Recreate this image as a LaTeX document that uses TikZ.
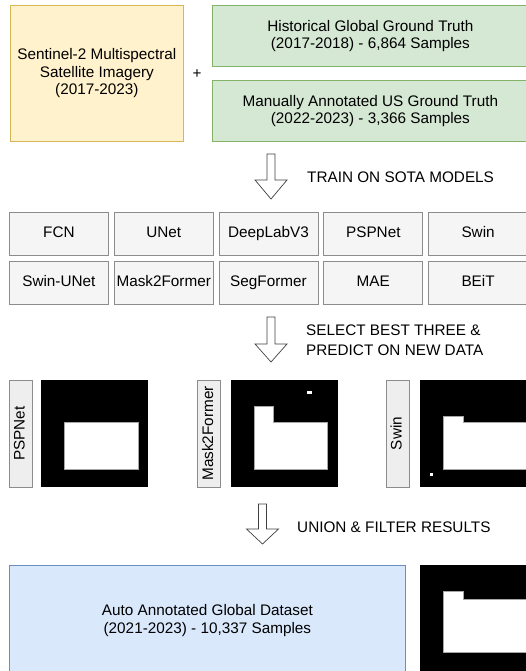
\documentclass[tikz,border=0pt]{standalone}
\usepackage{fontspec}
\setmainfont{Liberation Sans}
\usetikzlibrary{positioning,calc}

\definecolor{imgyellow}{HTML}{FFF2CC}
\definecolor{imgyellowline}{HTML}{D6B656}
\definecolor{truthgreen}{HTML}{D5E8D4}
\definecolor{truthgreenline}{HTML}{82B366}
\definecolor{autoblue}{HTML}{DAE8FC}
\definecolor{autoblueline}{HTML}{6C8EBF}
\definecolor{modelfill}{HTML}{F5F5F5}
\definecolor{tagfill}{HTML}{EEEEEE}
\definecolor{modelline}{HTML}{8C8C8C}

\tikzstyle{every node}=[font=\fontsize{15.3}{17.5}\selectfont]
\tikzstyle{box} = [draw, line width=0.8pt, align=center, inner sep=0pt, anchor=north west]
\tikzstyle{source} = [box, fill=imgyellow, draw=imgyellowline]
\tikzstyle{truth} = [box, fill=truthgreen, draw=truthgreenline]
\tikzstyle{result} = [box, fill=autoblue, draw=autoblueline]
\tikzstyle{model} = [box, fill=modelfill, draw=modelline, minimum width=99pt, minimum height=43pt,
  text height=11pt, text depth=3pt]
\tikzstyle{tag} = [draw=modelline, fill=tagfill, line width=0.8pt, inner sep=0pt,
  minimum width=107pt, minimum height=23pt, text height=11pt, text depth=3pt, rotate=90]
\tikzstyle{maskimg} = [fill=black, inner sep=0pt, anchor=north west, minimum size=107pt]
\tikzstyle{blob} = [fill=white, draw=gray!70, line width=0.6pt]
\tikzstyle{flowarrow} = [draw=black!75, fill=white, line width=0.7pt, line join=miter]
\tikzstyle{step label} = [anchor=west, align=left, inner sep=0pt]

\newcommand{\flowarrow}[4]{%
  \draw[flowarrow] (#1-4,#2) -- (#1+4,#2) -- (#1+4,#3) -- (#1+16,#3)
    -- (#1,#4) -- (#1-16,#3) -- (#1-4,#3) -- cycle;}

\begin{document}
\begin{tikzpicture}[x=1pt, y=-1pt]
  \useasboundingbox (0,0) rectangle (526,671);

  \node[source, minimum width=173pt, minimum height=136pt] (sentinel) at (10,5)
    {Sentinel-2 Multispectral\\Satellite Imagery\\(2017-2023)};
  \node (plus) at (197,74) {+};
  \node[truth, minimum width=316pt, minimum height=61pt] (historical) at (212,5)
    {Historical Global Ground Truth\\(2017-2018) - 6,864 Samples};
  \node[truth, minimum width=316pt, minimum height=61pt] (manual) at (212,80)
    {Manually Annotated US Ground Truth\\(2022-2023) - 3,366 Samples};

  \flowarrow{271}{154}{180}{199}
  \node[step label] (train) at (307,177) {TRAIN ON SOTA MODELS};

  \foreach \name/\lbl [count=\i from 0] in {fcn/FCN, unet/UNet, deeplab/DeepLabV3, pspnet/PSPNet, swin/Swin}
    \node[model] (\name) at (9+104.8*\i,212) {\lbl};
  \foreach \name/\lbl [count=\i from 0] in {swinunet/Swin-UNet, maskformer/Mask2Former, segformer/SegFormer, mae/MAE, beit/BEiT}
    \node[model] (\name) at (9+104.8*\i,261) {\lbl};

  \flowarrow{271}{317}{344}{362}
  \node[step label] (select) at (306,340) {SELECT BEST THREE \&\\[2pt]PREDICT ON NEW DATA};

  \node[tag] (tagpsp) at (20.5,433.5) {PSPNet};
  \node[maskimg] (predpsp) at (41,380) {};
  \draw[blob] (64,422) rectangle (138,469);

  \node[tag] (tagmask) at (209,433.5) {Mask2Former};
  \node[maskimg] (predmask) at (231,380) {};
  \draw[blob] (254,406) -- (273,406) -- (273,422) -- (327,422) -- (327,469) -- (254,469) -- cycle;
  \fill[white] (307,391) rectangle (312,394);

  \node[tag] (tagswin) at (397.5,433.5) {Swin};
  \node[maskimg] (predswin) at (420,380) {};
  \draw[blob] (443,416) -- (463,416) -- (463,422) -- (532,422) -- (532,469) -- (443,469) -- cycle;
  \fill[white] (430,473) rectangle (433,476);

  \flowarrow{262.5}{504}{529}{544}
  \node[step label] (union) at (297,527) {UNION \& FILTER RESULTS};

  \node[result, minimum width=396pt, minimum height=110pt] (autoset) at (9,565)
    {Auto Annotated Global Dataset\\(2021-2023) - 10,337 Samples};
  \node[maskimg] (final) at (420,565) {};
  \draw[blob] (443,591) -- (463,591) -- (463,599) -- (532,599) -- (532,652) -- (443,652) -- cycle;
\end{tikzpicture}
\end{document}
